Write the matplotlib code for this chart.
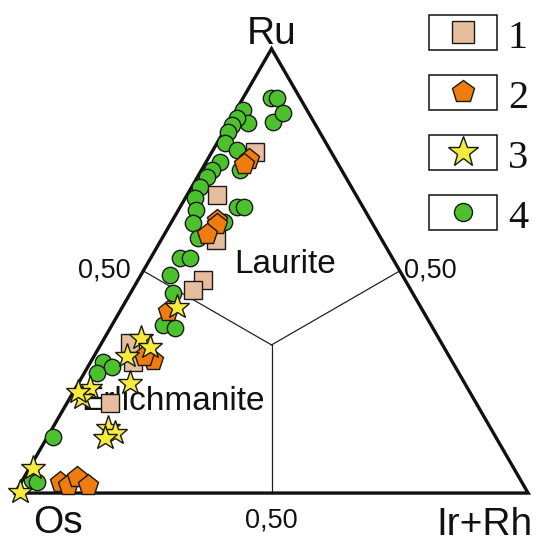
import numpy as np
import matplotlib
matplotlib.use('Agg')
import matplotlib.pyplot as plt
from matplotlib.patches import Rectangle

# compositions in percent: Ru and Ir+Rh (Os is the remainder)
circle_ru = [89.0, 89.0, 83.6, 85.6, 86.3, 83.3, 84.5, 82.9, 81.3, 78.8, 77.3, 72.7,
             74.5, 72.7, 71.2, 68.9, 66.4, 64.4, 64.4, 63.7, 60.8, 61.0, 57.4, 52.9,
             52.9, 49.1, 45.0, 37.8, 37.2, 29.5, 28.4, 27.0, 12.6, 2.9, 2.5]
circle_irrh = [5.4, 6.6, 8.5, 9.4, 1.3, 3.7, 1.1, 0.9, 0.8, 1.5, 4.7, 7.5,
               2.7, 2.0, 1.8, 1.6, 1.9, 11.1, 12.4, 3.4, 4.3, 10.2, 7.0, 5.7,
               7.6, 5.6, 8.3, 9.9, 12.6, 2.4, 4.7, 2.5, 1.1, 1.8, 3.1]

square_ru = [76.8, 67.1, 57.0, 48.0, 45.7, 33.8, 29.5, 20.3]
square_irrh = [8.4, 5.8, 10.7, 12.6, 11.8, 5.5, 8.2, 8.4]

pent_ru = [75.2, 74.1, 61.5, 60.6, 58.3, 41.0, 30.0, 30.9, 2.5, 1.8, 3.6, 1.8]
pent_irrh = [8.0, 7.6, 8.7, 9.1, 8.2, 9.3, 11.9, 9.6, 7.6, 9.4, 10.3, 13.3]

star_ru = [41.9, 34.9, 32.9, 30.9, 24.8, 23.6, 21.4, 22.7, 14.6, 13.5, 12.4, 5.6, 0.2]
star_irrh = [10.6, 7.1, 9.8, 6.4, 10.0, 2.8, 2.4, 0.9, 10.8, 12.7, 11.3, 0.7, 0.9]

legend_labels = ['1', '2', '3', '4']

H = np.sqrt(3) / 2


def tern(ru, irrh):
    ru = np.asarray(ru, float)
    irrh = np.asarray(irrh, float)
    return irrh + ru / 2, ru * H


fig = plt.figure(figsize=(5.44, 5.5), dpi=100)
ax = fig.add_axes([0, 0, 1, 1])
ax.set_xlim(-2.92, 103.1)
ax.set_ylim(-11.1, 96.1)
ax.axis('off')

# field boundaries: edge midpoints to centroid
cx, cy = tern(100 / 3, 100 / 3)
for ru, ir in [(50, 0), (50, 50), (0, 50)]:
    x, y = tern(ru, ir)
    ax.plot([x, cx], [y, cy], color='#222222', lw=0.9, zorder=1)

# outer triangle
tx, ty = tern([0, 100, 0, 0], [0, 0, 100, 0])
ax.plot(tx, ty, color='#111111', lw=2.4, solid_joinstyle='miter', zorder=2)

lab = dict(family='Liberation Sans', color='#111111')
ax.text(50.1, 87.5, 'Ru', fontsize=28, ha='center', va='baseline', **lab)
ax.text(8.4, -7.8, 'Os', fontsize=28, ha='center', va='baseline', **lab)
ax.text(91.4, -8.2, 'Ir+Rh', fontsize=28, ha='center', va='baseline', **lab)
ax.text(17.4, 42.1, '0,50', fontsize=19.5, ha='center', va='baseline', **lab)
ax.text(80.9, 42.1, '0,50', fontsize=19.5, ha='center', va='baseline', **lab)
ax.text(49.9, -6.8, '0,50', fontsize=19.5, ha='center', va='baseline', **lab)
ax.text(52.6, 42.9, 'Laurite', fontsize=24, ha='center', va='baseline', **lab)
ax.text(12.9, 16.2, 'Erlichmanite', fontsize=24, ha='left', va='baseline', zorder=2, **lab)

styles = [
    ('s', '#E6BE9E', 13.3, 15.8),
    ('p', '#F07B0E', 15.5, 16.6),
    ('*', '#F5EB3C', 18.5, 22.7),
    ('o', '#4DC02E', 11.8, 13.0),
]
groups = [(square_ru, square_irrh), (pent_ru, pent_irrh),
          (star_ru, star_irrh), (circle_ru, circle_irrh)]
zorders = [4, 5, 6, 3]

for (ru, ir), (mk, col, ms, _), z in zip(groups, styles, zorders):
    x, y = tern(ru, ir)
    ax.plot(x, y, linestyle='none', marker=mk, ms=ms, mfc=col,
            mec='#1a1a1a', mew=1.0, zorder=z)

# legend boxes
for i, ((mk, col, _, lms), txt) in enumerate(zip(styles, legend_labels)):
    top = 93.2 - i * 11.7
    ax.add_patch(Rectangle((80.7, top - 6.8), 13.3, 6.8, fill=False,
                           ec='#111111', lw=1.1, zorder=7, clip_on=False))
    ax.plot([87.3], [top - 3.4], marker=mk, ms=lms, mfc=col, mec='#1a1a1a',
            mew=1.0, zorder=8, clip_on=False)
    ax.text(98.0, top - 6.5, txt, fontsize=29, ha='center', va='baseline',
            family='Liberation Serif', color='#111111')

fig.savefig('out.png', dpi=100)
